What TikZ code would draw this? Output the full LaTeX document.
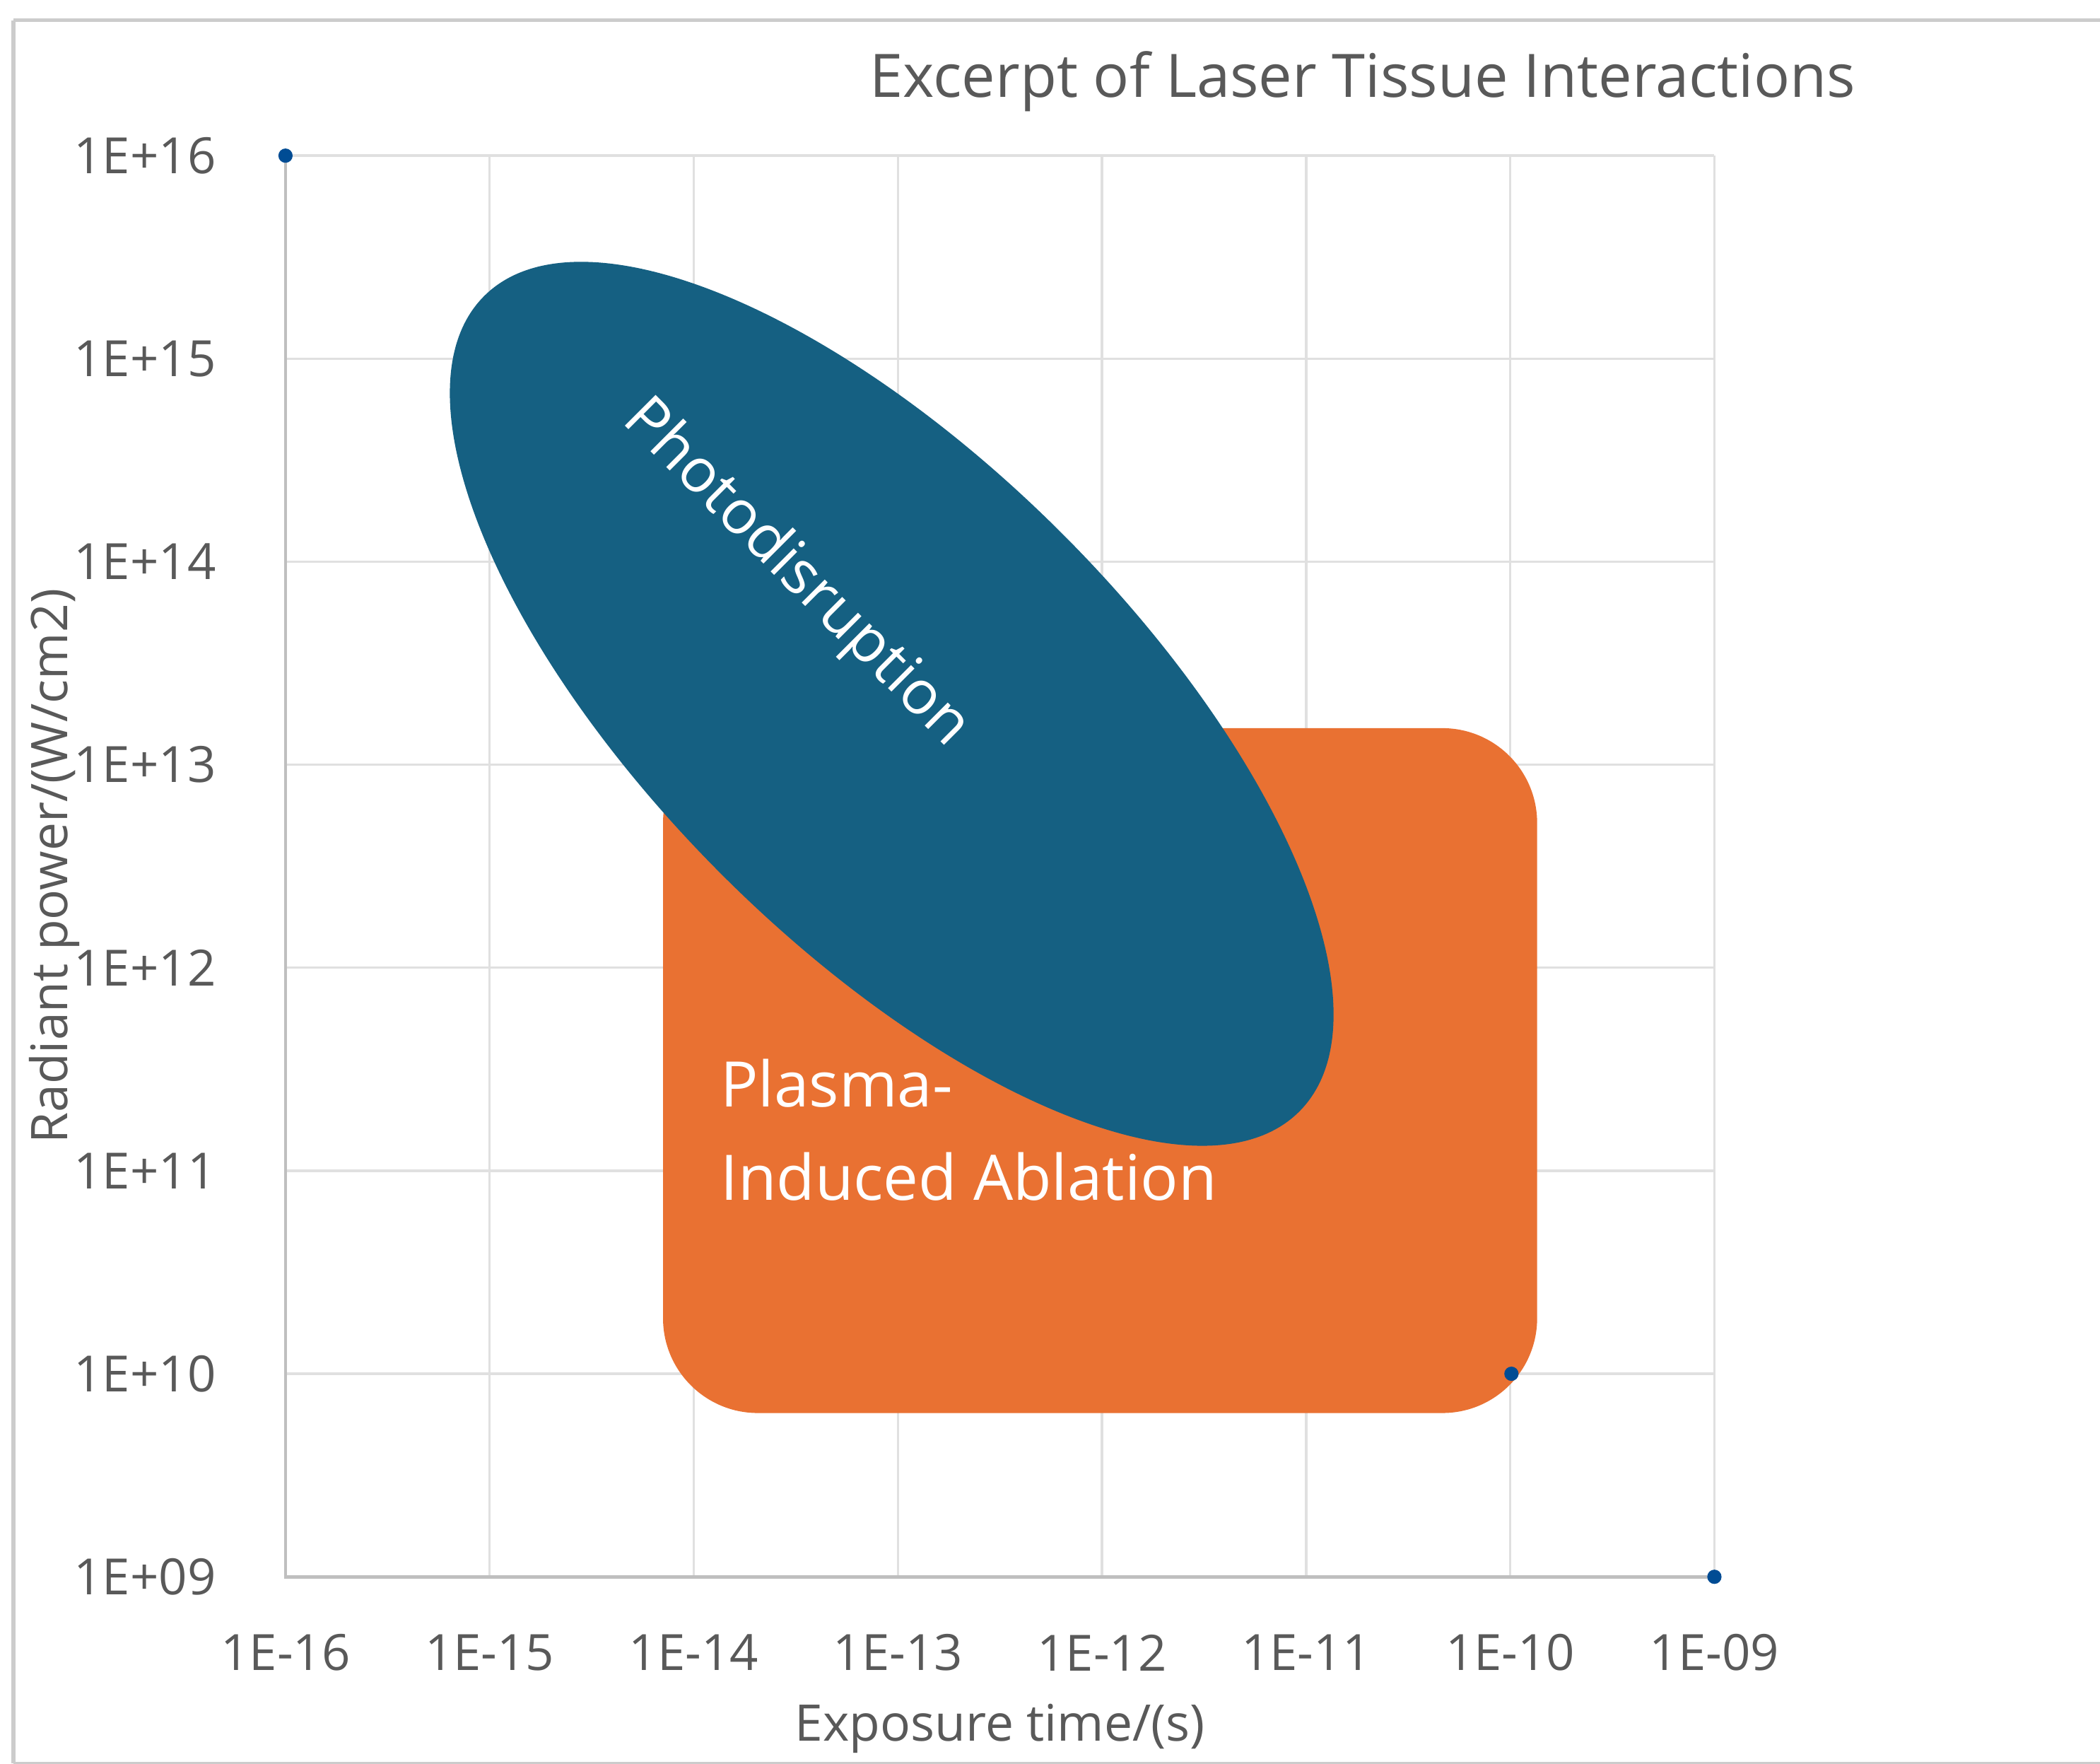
\documentclass[tikz,border=0pt]{standalone}
\usepackage{fontspec}
\setmainfont{Open Sans}
\begin{document}
\begin{tikzpicture}[x=0.01cm,y=-0.01cm,
  grid/.style={draw=black!12,line width=0.5pt},
  axis/.style={draw=black!25,line width=0.7pt},
  tick/.style={text=black!65,font=\fontsize{10.5}{13}\selectfont},
  pt/.style={fill=black!60!blue!70!cyan,circle,inner sep=0pt,minimum size=3pt}]
\definecolor{blueell}{HTML}{156082}
\definecolor{orng}{HTML}{E97132}
\useasboundingbox (0,0) rectangle (1552,1303);
\fill[white] (0,0) rectangle (1552,1303);
\draw[black!20,line width=0.8pt] (10,15) -- (1552,15);
\draw[black!20,line width=0.8pt] (10,15) -- (10,1303);
\draw[black!20,line width=0.8pt] (10,1303) -- (1552,1303);
\node[text=black!65,font=\fontsize{12.6}{15}\selectfont] (title) at (1007,60) {Excerpt of Laser Tissue Interactions};
% grid
\foreach \i in {1,...,7} {\draw[grid] ({211+150.86*\i},115) -- ({211+150.86*\i},1165);}
\foreach \j in {0,...,6} {\draw[grid] (211,{115+150*\j}) -- (1267,{115+150*\j});}
\draw[axis] (211,115) -- (211,1165) -- (1267,1165);
% y labels
\foreach \j/\l in {0/16,1/15,2/14,3/13,4/12,5/11,6/10} {\node[tick,anchor=east] (y\j) at (172,{115+150*\j}) {1E+\l};}
\node[tick,anchor=east] (y7) at (172,1165) {1E+09};
\foreach \i/\l in {0/16,1/15,2/14,3/13,4/12,5/11,6/10} {\node[tick] (x\i) at ({211+150.86*\i},1221) {1E-\l};}
\node[tick] (x7) at (1267,1221) {1E-09};
\node[tick,font=\fontsize{10.6}{13}\selectfont] (xt) at (739,1277) {Exposure time/(s)};
\node[tick,font=\fontsize{10.6}{13}\selectfont,rotate=90] (yt) at (40,640) {Radiant power/(W/cm2)};
% shapes
\fill[orng,rounded corners=0.7cm] (490,538) rectangle (1136,1044);
\fill[blueell,rotate around={-45:(659,520)}] (659,520) ellipse [x radius=426, y radius=178];
\node[text=white,rotate=-45,font=\fontsize{12.8}{15}\selectfont] (ph) at (588,424) {Photodisruption};
\node[text=white,anchor=west,align=left,font=\fontsize{13.2}{19.6}\selectfont] (pl) at (520,835) {Plasma-\\Induced Ablation};
% points
\node[pt] (p1) at (211,115) {};
\node[pt] (p2) at (1117,1015) {};
\node[pt] (p3) at (1267,1165) {};
\end{tikzpicture}
\end{document}
